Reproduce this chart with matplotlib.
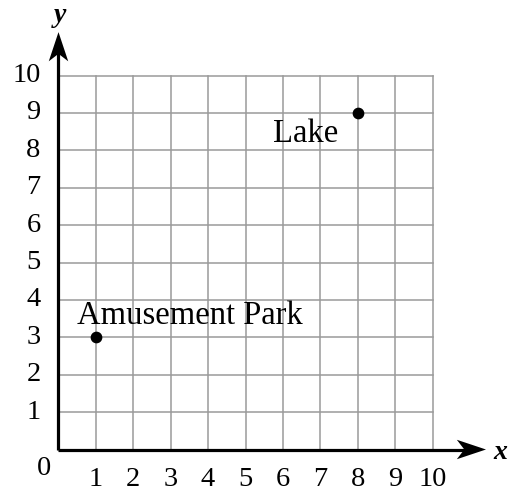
import matplotlib.pyplot as plt

# data
grid_max = 10
x_ticks = list(range(1, 11))
y_ticks = list(range(1, 11))
point_names = ['Amusement Park', 'Lake']
point_x = [1, 8]
point_y = [3, 9]

plt.rcParams['font.family'] = ['Liberation Serif', 'DejaVu Serif']

fig = plt.figure(figsize=(5.09, 4.93), dpi=100)
ax = fig.add_axes([0, 0, 1, 1])
ax.set_xlim(-1.564, 12.045)
ax.set_ylim(-1.163, 12.019)
ax.axis('off')

# grid
for v in x_ticks:
    ax.plot([v, v], [0, grid_max], color='#9a9a9a', lw=1.1, zorder=1)
for v in y_ticks:
    ax.plot([0, grid_max], [v, v], color='#9a9a9a', lw=1.1, zorder=1)

# axes with arrow heads
x_end = 11.43
y_end = 11.16
ax.plot([0, x_end - 0.5], [0, 0], color='black', lw=2.3, zorder=3, solid_capstyle='butt')
ax.plot([0, 0], [0, y_end - 0.5], color='black', lw=2.3, zorder=3, solid_capstyle='butt')
ax.fill([x_end, x_end - 0.78, x_end - 0.58, x_end - 0.78],
        [0, 0.26, 0, -0.26], color='black', zorder=4, lw=0)
ax.fill([0, 0.26, 0, -0.26],
        [y_end, y_end - 0.78, y_end - 0.58, y_end - 0.78], color='black', zorder=4, lw=0)

ax.text(11.8, -0.07, 'x', fontsize=20, fontweight='bold', style='italic',
        ha='center', va='center')
ax.text(0.05, 11.6, 'y', fontsize=20, fontweight='bold', style='italic',
        ha='center', va='center')

# tick labels
fs = 20.5
for v in x_ticks:
    ax.text(v, -0.8, str(v), fontsize=fs, ha='center', va='center')
for v in y_ticks:
    ax.text(-0.48, v, str(v), fontsize=fs, ha='right', va='center')
ax.text(-0.4, -0.5, '0', fontsize=fs, ha='center', va='center')

# points
ax.scatter(point_x, point_y, s=55, color='black', zorder=5)
ax.text(point_x[0] - 0.5, point_y[0] + 0.58, point_names[0], fontsize=23.5,
        ha='left', va='center')
ax.text(point_x[1] - 0.53, point_y[1] - 0.55, point_names[1], fontsize=23.5,
        ha='right', va='center')

fig.savefig('out.png', dpi=100)
